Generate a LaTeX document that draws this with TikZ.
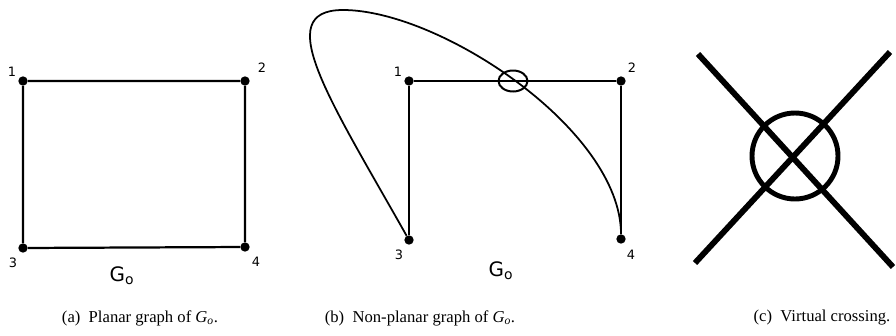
\documentclass[tikz,border=0pt]{standalone}
\usepackage{fontspec}
\setmainfont{Liberation Serif}
\newfontfamily\lblfont{DejaVu Sans}
\usetikzlibrary{positioning,shapes.geometric}

\begin{document}
\begin{tikzpicture}[
  x=0.03cm, y=-0.03cm,
  vtx/.style={circle, fill, inner sep=0pt, minimum size=0.28cm},
  num/.style={font=\lblfont\fontsize{11}{11}\selectfont, inner sep=0pt},
  gname/.style={font=\lblfont\fontsize{17}{17}\selectfont, inner sep=0pt},
  captxt/.style={font=\fontsize{14.2}{14}\selectfont, inner sep=0pt},
  eline/.style={line width=1.9pt},
  xline/.style={line width=5pt},
]
\useasboundingbox (0,0) rectangle (896,336);

%% -- (a) planar ----------------------------------------------
\node[vtx] (a1) at (23, 81)  {};
\node[vtx] (a2) at (245,81)  {};
\node[vtx] (a3) at (23, 248) {};
\node[vtx] (a4) at (245,247) {};
\draw[eline] (a1) -- (a2) -- (a4) -- (a3) -- (a1);
\node[num] at (12, 72)  {1};
\node[num] at (262,68)  {2};
\node[num] at (13, 263) {3};
\node[num] at (256,262) {4};
\node[gname] (ga) at (122,276) {G\textsubscript{o}};
\node[captxt] at (140,318) {(a)\enspace Planar graph of \textit{G\textsubscript{o}}.};

%% -- (b) non-planar ------------------------------------------
\node[vtx] (b1) at (409,81)  {};
\node[vtx] (b2) at (621,81)  {};
\node[vtx] (b3) at (409,240) {};
\node[vtx] (b4) at (621,239) {};
\coordinate (btop) at (343,10);
\draw[eline] (b3) -- (b1) -- (b2) -- (b4);
\draw[line width=1.5pt] (b3) .. controls (330,100) and (270,10) .. (btop)
  .. controls (440,10) and (621,130) .. (b4);
\node[draw, ellipse, line width=1.7pt, minimum width=0.87cm,
      minimum height=0.63cm, inner sep=0pt] (bx) at (513,81) {};
\node[num] at (398,72)  {1};
\node[num] at (632,68)  {2};
\node[num] at (399,255) {3};
\node[num] at (631,255) {4};
\node[gname] (gb) at (501,271) {G\textsubscript{o}};
\node[captxt] at (420,318) {(b)\enspace Non-planar graph of \textit{G\textsubscript{o}}.};

%% -- (c) virtual crossing ------------------------------------
\coordinate (c1) at (698,54);
\coordinate (c2) at (893,267);
\coordinate (c3) at (890,52);
\coordinate (c4) at (695,263);
\draw[xline] (c1) -- (c2);
\draw[xline] (c3) -- (c4);
\node[draw, circle, line width=4.2pt, minimum size=2.58cm, inner sep=0pt] (cx) at (795,156) {};
\node[captxt] at (822,318) {(c)\enspace Virtual crossing.};
\end{tikzpicture}
\end{document}
